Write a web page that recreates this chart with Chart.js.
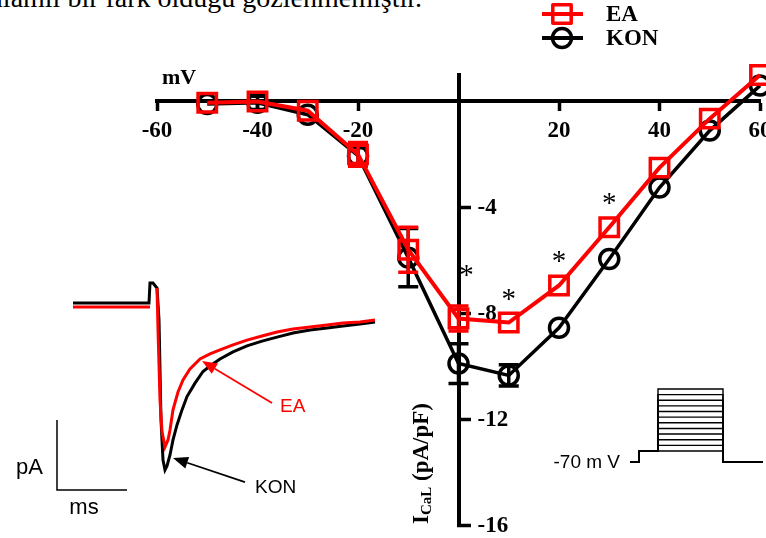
<!DOCTYPE html>
<html>
<head>
<meta charset="utf-8">
<script src="https://cdn.jsdelivr.net/npm/chart.js@4.4.1/dist/chart.umd.min.js"></script>
<style>
html, body { margin: 0; padding: 0; background: #fff; }
#wrap { position: relative; width: 766px; height: 538px; overflow: hidden; background: #fff; }
canvas { position: absolute; }
#traces { left: 0; top: 270px; }
#proto { left: 540px; top: 370px; }
#main { left: 0; top: 0; }
#caption { position: absolute; right: 344px; top: -16px; font: 28px "Liberation Serif", "Times New Roman", serif; line-height: 28px; white-space: nowrap; color: #000; }
</style>
</head>
<body>
<div id="wrap">
  <div id="caption">anlamlı bir fark olduğu gözlenmemiştir.</div>
  <canvas id="traces" width="390" height="268"></canvas>
  <canvas id="proto" width="226" height="110"></canvas>
  <canvas id="main" width="766" height="538"></canvas>
</div>
<script>
// ---------- I-V data (mV, pA/pF) ----------
const voltages   = [-50, -40, -30, -20, -10, 0, 10, 20, 30, 40, 50, 60];
const eaCurrent  = [-0.05, 0.0, -0.35, -2.0, -5.6, -8.2, -8.35, -6.95, -4.75, -2.5, -0.65, 1.0];
const eaError    = [0, 0, 0, 0.45, 0.85, 0.47, 0, 0, 0, 0, 0, 0];
const konCurrent = [-0.1, -0.05, -0.5, -2.05, -5.9, -9.9, -10.35, -8.55, -5.95, -3.25, -1.1, 0.6];
const konError   = [0, 0.25, 0, 0.3, 1.1, 0.75, 0.4, 0, 0, 0, 0, 0];
const significantVoltages = [0, 10, 20, 30];
const xTickValues = [-60, -40, -20, 20, 40, 60];
const yTickValues = [-4, -8, -12, -16];
const seriesNames = ['EA', 'KON'];
const xAxisLabel = 'mV';
const yAxisMain = 'I', yAxisSub = 'CaL', yAxisRest = ' (pA/pF)';

// ---------- example current traces (time ms, normalised current) ----------
const konTraceTime = [0, 76, 77, 80, 84, 86, 88, 90, 92, 94, 97, 100, 104, 109, 114, 122, 130, 137, 147, 160, 174, 189, 204, 220, 237, 254, 270, 287, 302];
const konTraceCur  = [0, 0, 0.12, 0.12, 0.09, -0.10, -0.70, -0.94, -1.0, -0.976, -0.91, -0.82, -0.73, -0.64, -0.56, -0.48, -0.41, -0.377, -0.335, -0.293, -0.257, -0.228, -0.204, -0.18, -0.162, -0.15, -0.138, -0.126, -0.114];
const eaTraceTime  = [0, 77, 80, 84, 85, 87, 89, 92, 95, 97, 100, 105, 110, 117, 127, 137, 147, 160, 174, 189, 204, 220, 237, 254, 270, 287, 302];
const eaTraceCur   = [-0.024, -0.024, null, 0.09, -0.16, -0.58, -0.77, -0.862, -0.82, -0.76, -0.64, -0.533, -0.46, -0.395, -0.335, -0.305, -0.281, -0.251, -0.222, -0.198, -0.174, -0.156, -0.144, -0.132, -0.12, -0.114, -0.102];
const traceLabels = ['EA', 'KON'];
const scaleBarLabels = ['pA', 'ms'];

// ---------- voltage protocol (ms, mV) ----------
const holdingPotential = -70;
const prePulsePotential = -50;
const protocolTimes = [0, 9, 28, 93, 133];
const testPotentials = [-50, -40, -30, -20, -10, 0, 10, 20, 30, 40, 50, 60];
const protocolLabel = '-70 m V';

const SERIF = '"Liberation Serif", "Times New Roman", serif';
const SANS = '"Liberation Sans", Arial, sans-serif';
const RED = '#ff0000';

// ================= MAIN I-V CHART =================
const errorBarPlugin = {
  id: 'errorBars',
  afterDatasetDraw(chart, args) {
    const ds = chart.data.datasets[args.index];
    if (!ds.errors) return;
    const { ctx, scales: { x, y } } = chart;
    ctx.save();
    ctx.strokeStyle = ds.borderColor;
    ctx.lineWidth = 3.5;
    ds.data.forEach((p, i) => {
      const e = ds.errors[i];
      if (!e) return;
      const px = x.getPixelForValue(p.x);
      const top = y.getPixelForValue(p.y + e);
      const bot = y.getPixelForValue(p.y - e);
      ctx.beginPath();
      ctx.moveTo(px, top); ctx.lineTo(px, bot);
      ctx.moveTo(px - 10, top); ctx.lineTo(px + 10, top);
      ctx.moveTo(px - 10, bot); ctx.lineTo(px + 10, bot);
      ctx.stroke();
    });
    ctx.restore();
  }
};

const yLabelPlugin = {
  id: 'yLabels',
  beforeDatasetsDraw(chart) {
    const { ctx, scales: { x, y } } = chart;
    const ax = x.getPixelForValue(0);
    ctx.save();
    ctx.font = 'bold 23px ' + SERIF;
    ctx.fillStyle = '#000';
    ctx.textAlign = 'left';
    ctx.textBaseline = 'middle';
    y.ticks.forEach(t => ctx.fillText(String(t.value), ax + 19, y.getPixelForValue(t.value) + 1));
    ctx.restore();
  }
};

const starPlugin = {
  id: 'stars',
  afterDatasetsDraw(chart) {
    const { ctx, scales: { x, y } } = chart;
    ctx.save();
    ctx.font = '29px ' + SERIF;
    ctx.fillStyle = '#000';
    ctx.textAlign = 'center';
    ctx.textBaseline = 'alphabetic';
    significantVoltages.forEach(v => {
      const i = voltages.indexOf(v);
      const py = y.getPixelForValue(eaCurrent[i]);
      const errPx = y.getPixelForValue(eaCurrent[i] - eaError[i]) - py;
      const cx = x.getPixelForValue(v) + (eaError[i] ? 8 : 0);
      const cy = py - 29 - 1.6 * errPx;
      ctx.fillText('*', cx, cy + 14);
    });
    ctx.restore();
  }
};

const decorPlugin = {
  id: 'decor',
  afterDraw(chart) {
    const { ctx } = chart;
    ctx.save();
    // legend
    chart.data.datasets.forEach((ds, i) => {
      const cy = 14 + i * 24;
      ctx.strokeStyle = ds.borderColor;
      ctx.lineWidth = 4;
      ctx.beginPath(); ctx.moveTo(542, cy); ctx.lineTo(583, cy); ctx.stroke();
      ctx.lineWidth = 3.5;
      ctx.lineJoin = 'round';
      ctx.beginPath();
      if (ds.pointStyle === 'rect') ctx.rect(562 - 9.2, cy - 9.2, 18.4, 18.4);
      else ctx.arc(562, cy, 9.5, 0, Math.PI * 2);
      ctx.stroke();
      ctx.fillStyle = '#000';
      ctx.font = 'bold 23px ' + SERIF;
      ctx.textAlign = 'left';
      ctx.textBaseline = 'middle';
      ctx.fillText(ds.label, 606, cy + 1);
    });
    // x-axis unit
    ctx.fillStyle = '#000';
    ctx.font = 'bold 22px ' + SERIF;
    ctx.textAlign = 'left';
    ctx.textBaseline = 'middle';
    ctx.fillText(xAxisLabel, 162, 78);
    // y-axis title (rotated, with subscript)
    ctx.translate(428, 524);
    ctx.rotate(-Math.PI / 2);
    ctx.textBaseline = 'alphabetic';
    ctx.font = 'bold 23px ' + SERIF;
    ctx.fillText(yAxisMain, 0, 0);
    let w = ctx.measureText(yAxisMain).width;
    ctx.font = 'bold 15px ' + SERIF;
    ctx.fillText(yAxisSub, w, 3);
    w += ctx.measureText(yAxisSub).width;
    ctx.font = 'bold 23px ' + SERIF;
    ctx.fillText(yAxisRest, w, 0);
    ctx.restore();
  }
};

const noEdgePadding = s => { s.paddingLeft = 0; s.paddingRight = 0; s.paddingTop = 0; s.paddingBottom = 0; };

new Chart(document.getElementById('main'), {
  type: 'line',
  data: {
    datasets: [
      {
        label: seriesNames[0],
        data: voltages.map((v, i) => ({ x: v, y: eaCurrent[i] })),
        errors: eaError,
        borderColor: RED, borderWidth: 4,
        pointStyle: 'rect', pointRadius: 13, pointBorderWidth: 3.5,
        pointBorderColor: RED, pointBackgroundColor: 'rgba(0,0,0,0)',
        tension: 0, clip: false
      },
      {
        label: seriesNames[1],
        data: voltages.map((v, i) => ({ x: v, y: konCurrent[i] })),
        errors: konError,
        borderColor: '#000', borderWidth: 3.5,
        pointStyle: 'circle', pointRadius: 9.5, pointBorderWidth: 3.5,
        pointBorderColor: '#000', pointBackgroundColor: 'rgba(0,0,0,0)',
        tension: 0, clip: false
      }
    ]
  },
  options: {
    responsive: false, animation: false, events: [],
    layout: { autoPadding: false, padding: { left: 157, right: 6, top: 75, bottom: 13 } },
    plugins: { legend: { display: false }, tooltip: { enabled: false } },
    scales: {
      x: {
        type: 'linear', min: -60, max: 60, position: { y: 0 },
        afterBuildTicks: s => { s.ticks = xTickValues.map(v => ({ value: v })); },
        afterFit: noEdgePadding,
        grid: { drawOnChartArea: false, drawTicks: true, tickLength: 8, tickWidth: 3.5, tickColor: '#000' },
        border: { display: true, color: '#000', width: 4 },
        ticks: { color: '#000', autoSkip: false, maxRotation: 0, padding: 8,
                 font: { family: SERIF, size: 23, weight: 'bold' },
                 callback: v => String(v) }
      },
      y: {
        type: 'linear', min: -16, max: 1, position: { x: 0 },
        afterBuildTicks: s => { s.ticks = yTickValues.map(v => ({ value: v })); },
        afterFit: noEdgePadding,
        grid: { drawOnChartArea: false, drawTicks: true, tickLength: -14, tickWidth: 3.5, tickColor: '#000' },
        border: { display: true, color: '#000', width: 4 },
        ticks: { display: false }
      }
    }
  },
  plugins: [yLabelPlugin, errorBarPlugin, starPlugin, decorPlugin]
});

// ================= INSET: CURRENT TRACES =================
const arrowPlugin = {
  id: 'arrows',
  afterDatasetsDraw(chart) {
    const { ctx, scales: { x, y } } = chart;
    const arrows = [
      { color: RED, label: traceLabels[0], tip: [129, -0.347], tail: [199, -0.599], text: [207, -0.623] },
      { color: '#000', label: traceLabels[1], tip: [100, -0.928], tail: [172, -1.072], text: [182, -1.108] }
    ];
    ctx.save();
    arrows.forEach(a => {
      const x1 = x.getPixelForValue(a.tail[0]), y1 = y.getPixelForValue(a.tail[1]);
      const x2 = x.getPixelForValue(a.tip[0]), y2 = y.getPixelForValue(a.tip[1]);
      const ang = Math.atan2(y2 - y1, x2 - x1);
      const hl = 15, hw = 6;
      const bx = x2 - hl * Math.cos(ang), by = y2 - hl * Math.sin(ang);
      ctx.strokeStyle = a.color; ctx.fillStyle = a.color; ctx.lineWidth = 1.8;
      ctx.beginPath(); ctx.moveTo(x1, y1); ctx.lineTo(bx, by); ctx.stroke();
      ctx.beginPath();
      ctx.moveTo(x2, y2);
      ctx.lineTo(bx + hw * Math.sin(ang), by - hw * Math.cos(ang));
      ctx.lineTo(bx - hw * Math.sin(ang), by + hw * Math.cos(ang));
      ctx.closePath(); ctx.fill();
      ctx.font = '19px ' + SANS;
      ctx.textAlign = 'left'; ctx.textBaseline = 'middle';
      ctx.fillText(a.label, x.getPixelForValue(a.text[0]), y.getPixelForValue(a.text[1]));
    });
    // scale bar labels
    ctx.fillStyle = '#000';
    ctx.font = '22px ' + SANS;
    ctx.textBaseline = 'middle';
    ctx.textAlign = 'right';
    ctx.fillText(scaleBarLabels[0], x.getPixelForValue(-30), y.getPixelForValue(-0.99));
    ctx.textAlign = 'center';
    ctx.fillText(scaleBarLabels[1], x.getPixelForValue(11), y.getPixelForValue(-1.23));
    ctx.restore();
  }
};

new Chart(document.getElementById('traces'), {
  type: 'line',
  data: {
    datasets: [
      { data: eaTraceTime.map((t, i) => ({ x: t, y: eaTraceCur[i] })), borderColor: RED, borderWidth: 3, pointRadius: 0, tension: 0, spanGaps: false, clip: false },
      { data: konTraceTime.map((t, i) => ({ x: t, y: konTraceCur[i] })), borderColor: '#000', borderWidth: 3, pointRadius: 0, tension: 0, clip: false },
      { data: [{ x: -16, y: -0.70 }, { x: -16, y: -1.12 }, { x: 54, y: -1.12 }], borderColor: '#000', borderWidth: 1.5, pointRadius: 0, tension: 0, clip: false }
    ]
  },
  options: {
    responsive: false, animation: false, events: [],
    layout: { autoPadding: false, padding: 0 },
    plugins: { legend: { display: false }, tooltip: { enabled: false } },
    scales: {
      x: { type: 'linear', min: -73, max: 317, display: false },
      y: { type: 'linear', min: -1.407, max: 0.1976, display: false }
    }
  },
  plugins: [arrowPlugin]
});

// ================= INSET: VOLTAGE PROTOCOL =================
const protoLabelPlugin = {
  id: 'protoLabel',
  afterDatasetsDraw(chart) {
    const { ctx, scales: { x, y } } = chart;
    ctx.save();
    ctx.fillStyle = '#000';
    ctx.font = '19px ' + SANS;
    ctx.textAlign = 'right';
    ctx.textBaseline = 'middle';
    ctx.fillText(protocolLabel, x.getPixelForValue(-10), y.getPixelForValue(holdingPotential) + 1);
    ctx.restore();
  }
};

const [t0, tPre, tStart, tEnd, tStop] = protocolTimes;
new Chart(document.getElementById('proto'), {
  type: 'line',
  data: {
    datasets: testPotentials.map(v => ({
      data: [
        { x: t0, y: holdingPotential }, { x: tPre, y: holdingPotential },
        { x: tPre, y: prePulsePotential }, { x: tStart, y: prePulsePotential },
        { x: tStart, y: v }, { x: tEnd, y: v },
        { x: tEnd, y: holdingPotential }, { x: tStop, y: holdingPotential }
      ],
      borderColor: '#000', borderWidth: 1.4, pointRadius: 0, tension: 0, clip: false
    }))
  },
  options: {
    responsive: false, animation: false, events: [],
    layout: { autoPadding: false, padding: 0 },
    plugins: { legend: { display: false }, tooltip: { enabled: false } },
    scales: {
      x: { type: 'linear', min: -90, max: 136, display: false },
      y: { type: 'linear', min: -101.5, max: 93.7, display: false }
    }
  },
  plugins: [protoLabelPlugin]
});
</script>
</body>
</html>
